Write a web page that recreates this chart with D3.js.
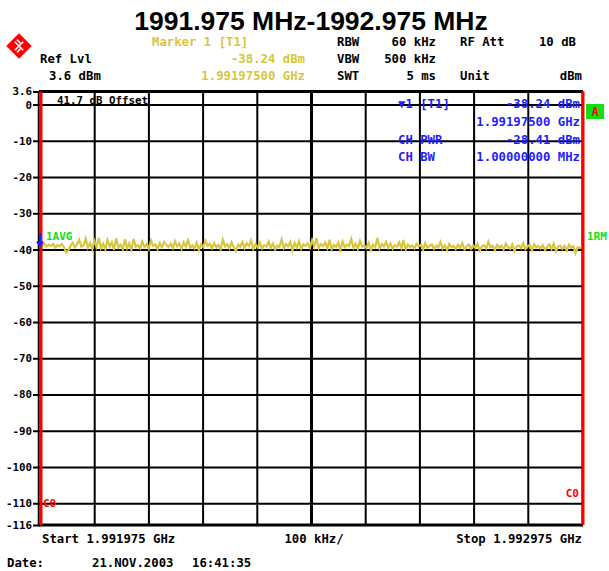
<!DOCTYPE html>
<html><head><meta charset="utf-8">
<script src="https://cdn.jsdelivr.net/npm/d3@7"></script>
<style>
html,body{margin:0;padding:0;background:#fff;}
svg{display:block;}
.px{font-family:"DejaVu Sans Mono",monospace;font-weight:bold;}
</style></head>
<body>
<script>
// ---- data ----
const title = "1991.975 MHz-1992.975 MHz";
const freqStart = 1991.975, freqStop = 1992.975; // MHz
const refLevel = 3.6, bottomLevel = -116;
const yTicks = [0,-10,-20,-30,-40,-50,-60,-70,-80,-90,-100,-110];
const xGrid = [1991.975,1992.075,1992.175,1992.275,1992.375,1992.475,1992.575,1992.675,1992.775,1992.875,1992.975];
const traceDbm = [
-38.6,-38.9,-38.3,-39.2,-38.7,-39.0,-38.4,-39.5,-38.8,-39.1,
-38.5,-39.3,-40.8,-40.2,-39.0,-38.1,-39.4,-38.6,-37.3,-39.2,
-38.9,-37.0,-39.5,-38.2,-39.8,-37.6,-39.3,-36.8,-39.6,-38.4,
-39.9,-37.4,-39.1,-38.0,-40.1,-36.9,-39.4,-38.7,-39.9,-37.2,
-39.6,-38.3,-40.0,-37.1,-39.2,-38.8,-39.7,-37.8,-39.3,-38.5,
-39.8,-37.5,-39.0,-38.6,-39.9,-38.2,-39.4,-37.9,-38.7,-39.3,
-38.4,-39.6,-37.7,-39.1,-38.3,-39.8,-38.0,-39.2,-37.4,-39.5,
-38.9,-39.7,-38.1,-40.2,-38.6,-39.3,-37.6,-39.0,-38.4,-39.6,
-38.2,-39.4,-38.8,-39.9,-37.3,-39.1,-38.5,-39.7,-38.0,-39.3,
-40.4,-38.7,-39.2,-37.9,-39.6,-38.3,-39.0,-37.5,-39.8,-38.6,
-39.4,-38.1,-39.7,-38.8,-39.2,-37.8,-39.5,-38.4,-40.0,-38.9,
-39.3,-37.2,-39.6,-38.5,-39.1,-37.9,-40.3,-38.2,-39.4,-37.7,
-39.8,-38.6,-39.0,-38.3,-39.5,-37.4,-39.2,-36.9,-39.7,-38.5,
-39.1,-38.0,-39.6,-37.3,-39.9,-38.7,-39.3,-38.1,-40.1,-37.8,
-39.4,-38.6,-39.0,-37.1,-39.5,-38.4,-39.8,-37.6,-39.2,-38.9,
-39.6,-38.2,-40.2,-38.7,-39.3,-36.8,-39.7,-38.5,-39.1,-37.9,
-39.5,-38.3,-39.8,-38.8,-39.2,-38.0,-39.6,-37.4,-40.0,-38.6,
-39.3,-38.9,-39.7,-38.4,-39.1,-38.7,-40.1,-38.2,-39.5,-39.0,
-38.6,-39.8,-38.9,-39.4,-37.9,-39.7,-38.8,-40.2,-38.5,-39.3,
-39.0,-39.9,-38.7,-39.5,-38.3,-40.0,-39.1,-38.6,-39.8,-38.9,
-39.6,-38.4,-40.3,-39.2,-38.8,-39.7,-37.8,-39.4,-39.0,-40.1,
-38.7,-39.5,-38.9,-40.0,-38.4,-39.3,-39.8,-38.6,-40.4,-39.1,
-38.9,-39.6,-38.3,-39.9,-39.2,-38.7,-40.2,-38.5,-39.4,-39.0,
-39.7,-38.8,-40.1,-39.3,-38.6,-39.9,-38.4,-40.5,-39.2,-38.9,
-39.8,-39.0,-40.3,-38.7,-39.5,-39.1,-41.0,-39.4,-39.6,-39.2];
const headerLeft = [["Ref Lvl","3.6 dBm"]];
const markerHead = ["Marker 1 [T1]","-38.24 dBm","1.99197500 GHz"];
const settings = [["RBW","60 kHz"],["VBW","500 kHz"],["SWT","5 ms"]];
const settings2 = [["RF Att","10 dB"],["",""],["Unit","dBm"]];
const markerInfo = [["▼1 [T1]","-38.24 dBm"],["","1.99197500 GHz"],["CH PWR","-28.41 dBm"],["CH BW","1.00000000 MHz"]];
const bottomLabels = ["Start 1.991975 GHz","100 kHz/","Stop 1.992975 GHz"];
const dateText = ["Date:","21.NOV.2003","16:41:35"];

// ---- layout ----
const W=609,H=571;
const L=40,R=582,T=91.5,B=525;
const svg=d3.select("body").append("svg").attr("width",W).attr("height",H);
const x=d3.scaleLinear().domain([freqStart,freqStop]).range([L,R]);
const y=d3.scaleLinear().domain([bottomLevel,refLevel]).range([B,T]);
const xi=d3.scaleLinear().domain([0,traceDbm.length-1]).range([freqStart,freqStop]);

const YEL="#d8c63e", BLUE="#1e1eff", GREEN="#10e010", RED="#ff0000";
const FS=12.3;

// title
svg.append("text").attr("x",311).attr("y",30).attr("text-anchor","middle")
  .attr("font-family","Liberation Sans, Arial, sans-serif").attr("font-weight","bold")
  .attr("font-size",26.5).text(title);

// logo
const lg=svg.append("g").attr("transform","translate(19,46) rotate(45)");
lg.append("rect").attr("x",-9).attr("y",-9).attr("width",18).attr("height",18).attr("fill",RED);
lg.append("path").attr("d","M-6,0H6M0,-6V6M-6,-3H-1M3,1V6").attr("stroke","#fff").attr("stroke-width",1.6).attr("fill","none");

function txt(xp,yp,s,opt={}){
  return svg.append("text").attr("class","px").attr("x",xp).attr("y",yp)
    .attr("font-size",opt.size||FS).attr("fill",opt.fill||"#000")
    .attr("text-anchor",opt.anchor||"start").text(s);
}
// header
txt(152,46,markerHead[0],{fill:YEL});
txt(305,63,markerHead[1],{fill:YEL,anchor:"end"});
txt(305,80,markerHead[2],{fill:YEL,anchor:"end"});
txt(40,63,headerLeft[0][0]);
txt(49,80,headerLeft[0][1]);
settings.forEach((s,i)=>{txt(337,46+i*17,s[0]);txt(436,46+i*17,s[1],{anchor:"end"});});
settings2.forEach((s,i)=>{ if(s[0]){txt(460,46+i*17,s[0]);txt(i==2?582:576,46+i*17,s[1],{anchor:"end"});} });

// grid via axes
const gy=svg.append("g").attr("transform",`translate(${L},0)`)
  .call(d3.axisLeft(y).tickValues(yTicks).tickSize(-(R-L)).tickFormat(""));
gy.select(".domain").remove();
gy.selectAll("line").attr("stroke","#000").attr("stroke-width",2);
const gx=svg.append("g").attr("transform",`translate(0,${B})`)
  .call(d3.axisBottom(x).tickValues(xGrid).tickSize(-(B-T)).tickFormat(""));
gx.select(".domain").remove();
gx.selectAll("line").attr("stroke","#000").attr("stroke-width",(d,i)=>i===5?3:2);

// y axis labels + outer ticks
const ya=svg.append("g").attr("transform",`translate(${L},0)`)
  .call(d3.axisLeft(y).tickValues([refLevel,...yTicks,bottomLevel]).tickSize(7).tickPadding(1)
  .tickFormat(d=>d===refLevel?"3.6":String(d)));
ya.select(".domain").remove();
ya.selectAll("line").attr("stroke","#000").attr("stroke-width",2);
ya.selectAll("text").attr("class","px").attr("font-size",10.8).attr("fill","#000")
  .attr("font-family","DejaVu Sans Mono, monospace").attr("font-weight","bold");

// frame
svg.append("line").attr("x1",L-1).attr("x2",R+1).attr("y1",T).attr("y2",T).attr("stroke","#000").attr("stroke-width",3);
svg.append("line").attr("x1",L-1).attr("x2",R+1).attr("y1",B).attr("y2",B).attr("stroke","#000").attr("stroke-width",3);
svg.append("line").attr("x1",L-1.5).attr("x2",L-1.5).attr("y1",T).attr("y2",B).attr("stroke","#000").attr("stroke-width",1.5);

// offset text
txt(57,104,"41.7 dB Offset",{size:10.8});

// trace
svg.append("path").datum(traceDbm)
  .attr("d",d3.line().x((d,i)=>x(xi(i))).y(d=>y(d)))
  .attr("fill","none").attr("stroke",YEL).attr("stroke-width",2.2).attr("stroke-linejoin","miter");

// channel limit lines
[freqStart,freqStop].forEach(f=>svg.append("line").attr("x1",x(f)+1).attr("x2",x(f)+1).attr("y1",T).attr("y2",B).attr("stroke",RED).attr("stroke-width",3));
txt(43,507,"C0",{fill:RED,size:11});
txt(579,497,"C0",{fill:RED,size:11,anchor:"end"});

// trace labels
txt(46,240,"1AVG",{fill:GREEN,size:11});
txt(587,240,"1RM",{fill:GREEN,size:11});
svg.append("path").attr("d",`M${L},${y(-35.6)}V${y(-38.6)}M${L-3},${y(-37.8)}L${L},${y(-38.9)}L${L+3},${y(-37.8)}`)
  .attr("stroke",BLUE).attr("stroke-width",2).attr("fill","none");

// A box
svg.append("rect").attr("x",586).attr("y",104).attr("width",18).attr("height",15).attr("fill",GREEN);
txt(595,116,"A",{fill:RED,size:12,anchor:"middle"});

// marker info
markerInfo.forEach((m,i)=>{
  const yy=108+i*17.8;
  if(m[0]) txt(398,yy,m[0],{fill:BLUE});
  txt(580,yy,m[1],{fill:BLUE,anchor:"end"});
});

// bottom
txt(42,543,bottomLabels[0]);
txt(314,543,bottomLabels[1],{anchor:"middle"});
txt(582,543,bottomLabels[2],{anchor:"end"});
txt(7,567,dateText[0]);
txt(92,567,dateText[1]);
txt(192,567,dateText[2]);
</script>
</body></html>
